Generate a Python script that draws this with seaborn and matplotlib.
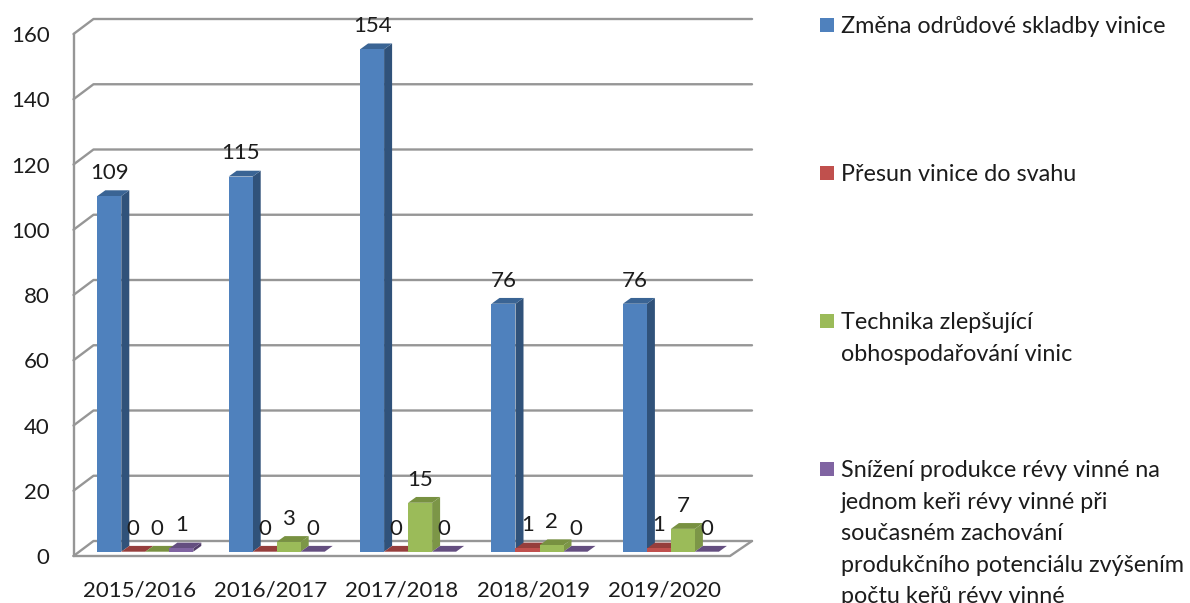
import pandas as pd
import matplotlib
matplotlib.use("Agg")
import matplotlib.pyplot as plt
import seaborn as sns
from matplotlib.patches import Polygon, Rectangle
from matplotlib.transforms import ScaledTranslation

# --- data ---
years = ["2015/2016", "2016/2017", "2017/2018", "2018/2019", "2019/2020"]
series_names = [
    "Změna odrůdové skladby vinice",
    "Přesun vinice do svahu",
    "Technika zlepšující\nobhospodařování vinic",
    "Snížení produkce révy vinné na\njednom keři révy vinné při\nsoučasném zachování\nprodukčního potenciálu zvýšením\npočtu keřů révy vinné",
]
zmena = [109, 115, 154, 76, 76]
presun = [0, 0, 0, 1, 1]
technika = [0, 3, 15, 2, 7]
snizeni = [1, 0, 0, 0, 0]
y_ticks = [0, 20, 40, 60, 80, 100, 120, 140, 160]

front_colors = ["#4F81BD", "#C0504D", "#9BBB59", "#8064A2"]
side_colors = ["#30527A", "#7D3432", "#7C9647", "#533F6B"]
top_colors = ["#3A6494", "#963E3C", "#789141", "#644E80"]
grid_color = "#969696"
text_color = "#1C1C1C"

W, H = 1190, 603
sns.set_style("white")
plt.rcParams["font.family"] = ["Lato", "DejaVu Sans"]

rows = []
for name, vals in zip(series_names, [zmena, presun, technika, snizeni]):
    for year, val in zip(years, vals):
        rows.append({"year": year, "series": name, "value": val})
df = pd.DataFrame(rows)

fig = plt.figure(figsize=(W / 100, H / 100), dpi=100)
ax_left, ax_right, ax_bottom, ax_top = 79.6, 736.6, 551.7, 29.7
ax = fig.add_axes([ax_left / W, 1 - ax_bottom / H, (ax_right - ax_left) / W, (ax_bottom - ax_top) / H])

sns.barplot(
    data=df, x="year", y="value", hue="series", hue_order=series_names,
    palette=front_colors, saturation=1, width=0.7306, gap=0, legend=False,
    linewidth=0, ax=ax, zorder=4,
)
ax.set_xlim(-0.5, 4.5)
ax.set_ylim(0, 160)
ax.set_xlabel("")
ax.set_ylabel("")
sns.despine(ax=ax, left=True, bottom=True)

# pixel -> data unit factors, used for the fake 3D depth
px_x = 5 / (ax_right - ax_left)
px_y = 160 / (ax_bottom - ax_top)

# --- walls: the grid runs on the back wall and folds forward to the left axis ---
x_front = -0.5 - 6.1 * px_x
x_back = x_front + 20 * px_x
x_front_r = 4.5 - 6.6 * px_x
x_back_r = x_front_r + 22 * px_x
off_front = -4.3 * px_y
off_back = 10.7 * px_y
line_kw = dict(color=grid_color, lw=1.7, clip_on=False, zorder=1, solid_capstyle="round", solid_joinstyle="round")
for tick in y_ticks:
    ax.plot([x_front, x_back, x_back_r], [tick + off_front, tick + off_back, tick + off_back], **line_kw)
ax.plot([x_front, x_front], [off_front, 160 + off_front], **line_kw)
ax.plot([x_front, x_front_r, x_back_r], [off_front, off_front, off_back], **line_kw)

# --- side and top faces of every bar ---
bar_dx = 8 * px_x
bar_dy = 5.8 * px_y
for i, container in enumerate(ax.containers):
    for rect in container:
        x0 = rect.get_x()
        x1 = x0 + rect.get_width()
        top = rect.get_height()
        if top > 0:
            ax.add_patch(Polygon([(x1, 0), (x1 + bar_dx, bar_dy), (x1 + bar_dx, top + bar_dy), (x1, top)],
                                 closed=True, fc=side_colors[i], ec="none", zorder=3, clip_on=False))
        ax.add_patch(Polygon([(x0, top), (x1, top), (x1 + bar_dx, top + bar_dy), (x0 + bar_dx, top + bar_dy)],
                             closed=True, fc=top_colors[i], ec="none", zorder=3, clip_on=False))
    ax.bar_label(container, padding=9.5, fontsize=16, color=text_color, zorder=6)

# --- tick labels follow the front edge of the chart ---
ax.set_yticks(y_ticks)
ax.tick_params(axis="y", length=0, pad=21.5, labelsize=16, labelcolor=text_color)
ax.tick_params(axis="x", length=0, pad=20.5, labelsize=16, labelcolor=text_color)
for lab in ax.get_yticklabels():
    lab.set_transform(lab.get_transform() + ScaledTranslation(0, -0.043, fig.dpi_scale_trans))
for lab in ax.get_xticklabels():
    lab.set_transform(lab.get_transform() + ScaledTranslation(-0.061, 0, fig.dpi_scale_trans))

# --- legend, first line of each entry level with its key ---
for i, name in enumerate(series_names):
    y_px = 25 + 148 * i
    fig.add_artist(Rectangle((820 / W, 1 - (y_px + 7) / H), 14 / W, 14 / H,
                             transform=fig.transFigure, fc=front_colors[i], ec="none"))
    fig.text(841 / W, 1 - (y_px - 9) / H, name, ha="left", va="top", fontsize=16.8,
             color=text_color, linespacing=1.62)

fig.savefig("out.png", dpi=100)
